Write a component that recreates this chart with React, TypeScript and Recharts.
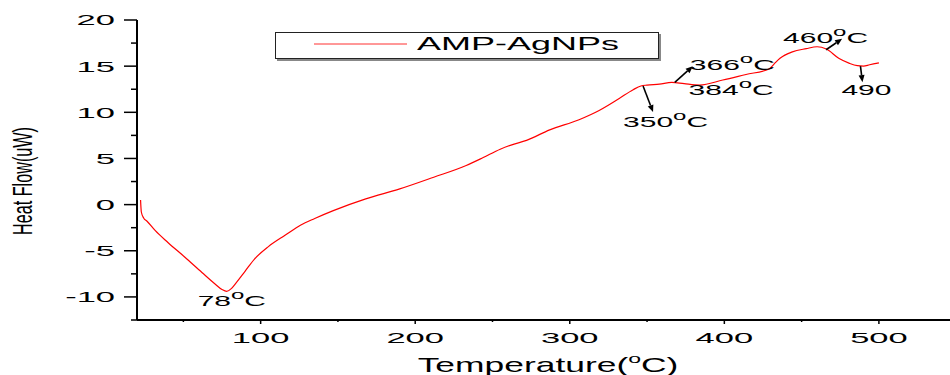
import React from "react";
import { ComposedChart, Line, Scatter, XAxis, YAxis, Legend } from "recharts";

// DSC trace, temperature (°C) vs heat flow (uW)
const temps = [
  22.3, 22.8, 24.3, 26.5, 31.7, 40, 51, 62, 70.5, 75, 78, 81, 84, 90, 96, 105,
  116, 126, 135, 147, 168, 190, 212, 233, 244, 255, 262, 272, 287, 306, 319,
  332, 341, 346, 350, 358, 366, 374, 384, 399, 414, 429, 432, 436, 444, 453,
  460, 466, 474, 481, 486, 490, 494, 500,
];
const heatFlow = [
  0.5, -0.8, -1.45, -1.8, -2.8, -4.1, -5.7, -7.35, -8.6, -9.2, -9.4, -9.1,
  -8.5, -7.2, -5.9, -4.55, -3.3, -2.2, -1.5, -0.65, 0.62, 1.7, 2.97, 4.24, 5.1,
  6.0, 6.45, 6.96, 8.1, 9.2, 10.2, 11.5, 12.45, 12.85, 12.95, 13.05, 13.25,
  13.1, 12.95, 13.5, 14.1, 14.7, 15.2, 15.85, 16.55, 16.9, 17.1, 16.85, 15.85,
  15.3, 15.05, 15.0, 15.15, 15.35,
];

// marked transitions
const peakTemps = [78, 350, 366, 384, 460, 490];
const peakHeat = [-9.4, 12.95, 13.25, 12.95, 17.1, 15.0];
const peakLabels = ["78", "350", "366", "384", "460", "490"];
const peakHasUnit = [true, true, true, true, true, false];

const xTicks = [50, 100, 150, 200, 250, 300, 350, 400, 450, 500];
const yTicks = [-12.5, -10, -7.5, -5, -2.5, 0, 2.5, 5, 7.5, 10, 12.5, 15, 17.5, 20];

const curve = temps.map((t, i) => ({ t, v: heatFlow[i] }));
const peaks = peakTemps.map((t, i) => ({
  t,
  v: peakHeat[i],
  label: peakLabels[i],
  unit: peakHasUnit[i],
  idx: i,
}));

// label / arrow offsets from the marked point, px
const peakLayout = [
  { lx: -29, ly: 14.5, arrow: null },
  { lx: -24, ly: 42, arrow: [-4, 1, 6, 27] },
  { lx: 18, ly: -12, arrow: [3, 0, 21, -16] },
  { lx: -11, ly: 10, arrow: null },
  { lx: -34, ly: -4, arrow: [9, 3, 25, -8] },
  { lx: -22, ly: 29, arrow: [-3, 0, -1, 16] },
];

const FONT = "'Liberation Sans', Arial, sans-serif";

function XTick({ x, y, payload }: any) {
  const major = payload.value % 100 === 0;
  return (
    <g>
      <line x1={x} x2={x} y1={y} y2={y + (major ? 4 : 2)} stroke="#000" strokeWidth={1.5} />
      {major && (
        <text
          transform={`translate(${x},${y + 22.5}) scale(2.3,1)`}
          textAnchor="middle"
          fontSize={15}
          fontFamily={FONT}
          fill="#000"
        >
          {payload.value}
        </text>
      )}
    </g>
  );
}

function YTick({ x, y, payload }: any) {
  const major = payload.value % 5 === 0;
  return (
    <g>
      <line x1={x - (major ? 13 : 6)} x2={x} y1={y} y2={y} stroke="#000" strokeWidth={1.5} />
      {major && (
        <text
          transform={`translate(115,${y + 5.4}) scale(2.3,1)`}
          textAnchor="end"
          fontSize={15}
          fontFamily={FONT}
          fill="#000"
        >
          {payload.value}
        </text>
      )}
    </g>
  );
}

function Arrow({ x1, y1, x2, y2 }: any) {
  const a = Math.atan2(y2 - y1, x2 - x1);
  const len = 7;
  const w = 3;
  const bx = x2 - len * Math.cos(a);
  const by = y2 - len * Math.sin(a);
  const px = -Math.sin(a) * w;
  const py = Math.cos(a) * w;
  return (
    <g>
      <line x1={x1} y1={y1} x2={bx} y2={by} stroke="#000" strokeWidth={1.6} />
      <polygon points={`${x2},${y2} ${bx + px},${by + py} ${bx - px},${by - py}`} fill="#000" />
    </g>
  );
}

function PeakMark({ cx, cy, payload }: any) {
  const lay = peakLayout[payload.idx];
  return (
    <g>
      {lay.arrow && (
        <Arrow
          x1={cx + lay.arrow[0]}
          y1={cy + lay.arrow[1]}
          x2={cx + lay.arrow[2]}
          y2={cy + lay.arrow[3]}
        />
      )}
      <text
        transform={`translate(${cx + lay.lx},${cy + lay.ly}) scale(2,1)`}
        fontSize={15}
        fontFamily={FONT}
        fill="#000"
      >
        {payload.label}
        {payload.unit && (
          <>
            <tspan fontSize={12} dy={-7}>o</tspan>
            <tspan dy={7}>C</tspan>
          </>
        )}
      </text>
    </g>
  );
}

function LegendBox({ payload }: any) {
  const item = (payload || []).find((p: any) => p.type !== "none");
  return (
    <svg width={388} height={31} style={{ display: "block" }}>
      <rect x={2} y={2} width={384} height={27} fill="#888" />
      <rect x={0.5} y={0.5} width={383} height={26} fill="#fff" stroke="#222" />
      <line x1={39} x2={132} y1={12} y2={12} stroke="#ff3030" strokeWidth={1} />
      <text
        transform="translate(142,18) scale(2,1)"
        fontSize={18}
        fontFamily={FONT}
        fill="#000"
      >
        {item ? item.value : ""}
      </text>
    </svg>
  );
}

function XTitle() {
  return (
    <text
      transform="translate(548,372) scale(1.77,1)"
      textAnchor="middle"
      fontSize={20}
      fontFamily={FONT}
      fill="#000"
    >
      Temperature(
      <tspan fontSize={13} dy={-9}>o</tspan>
      <tspan dy={9}>C)</tspan>
    </text>
  );
}

function YTitle() {
  return (
    <text
      transform="translate(32,181) rotate(-90) scale(0.6,1)"
      textAnchor="middle"
      fontSize={27}
      fontFamily={FONT}
      fill="#000"
    >
      Heat Flow(uW)
    </text>
  );
}

export default function App() {
  return (
    <div style={{ position: "absolute", left: 0, top: 0, background: "#fff" }}>
      <ComposedChart width={950} height={375} margin={{ top: 20, right: 0, bottom: 0, left: 0 }}>
        <XAxis
          type="number"
          dataKey="t"
          domain={[20, 546]}
          ticks={xTicks}
          allowDataOverflow
          height={55}
          tickSize={0}
          tickMargin={0}
          tickLine={false}
          axisLine={{ stroke: "#000", strokeWidth: 2 }}
          tick={<XTick />}
          label={{ content: <XTitle /> }}
        />
        <YAxis
          type="number"
          domain={[-12.5, 20]}
          ticks={yTicks}
          allowDataOverflow
          width={137}
          tickSize={0}
          tickMargin={0}
          tickLine={false}
          axisLine={{ stroke: "#000", strokeWidth: 2 }}
          tick={<YTick />}
          label={{ content: <YTitle /> }}
        />
        <Legend
          layout="horizontal"
          verticalAlign="middle"
          align="center"
          wrapperStyle={{ left: 275, top: 32, width: 388, height: 31 }}
          content={<LegendBox />}
        />
        <Line
          data={curve}
          dataKey="v"
          name="AMP-AgNPs"
          type="monotone"
          stroke="#ff0000"
          strokeWidth={1.2}
          dot={false}
          activeDot={false}
          isAnimationActive={false}
        />
        <Scatter
          data={peaks}
          dataKey="v"
          legendType="none"
          shape={<PeakMark />}
          isAnimationActive={false}
        />
      </ComposedChart>
    </div>
  );
}
